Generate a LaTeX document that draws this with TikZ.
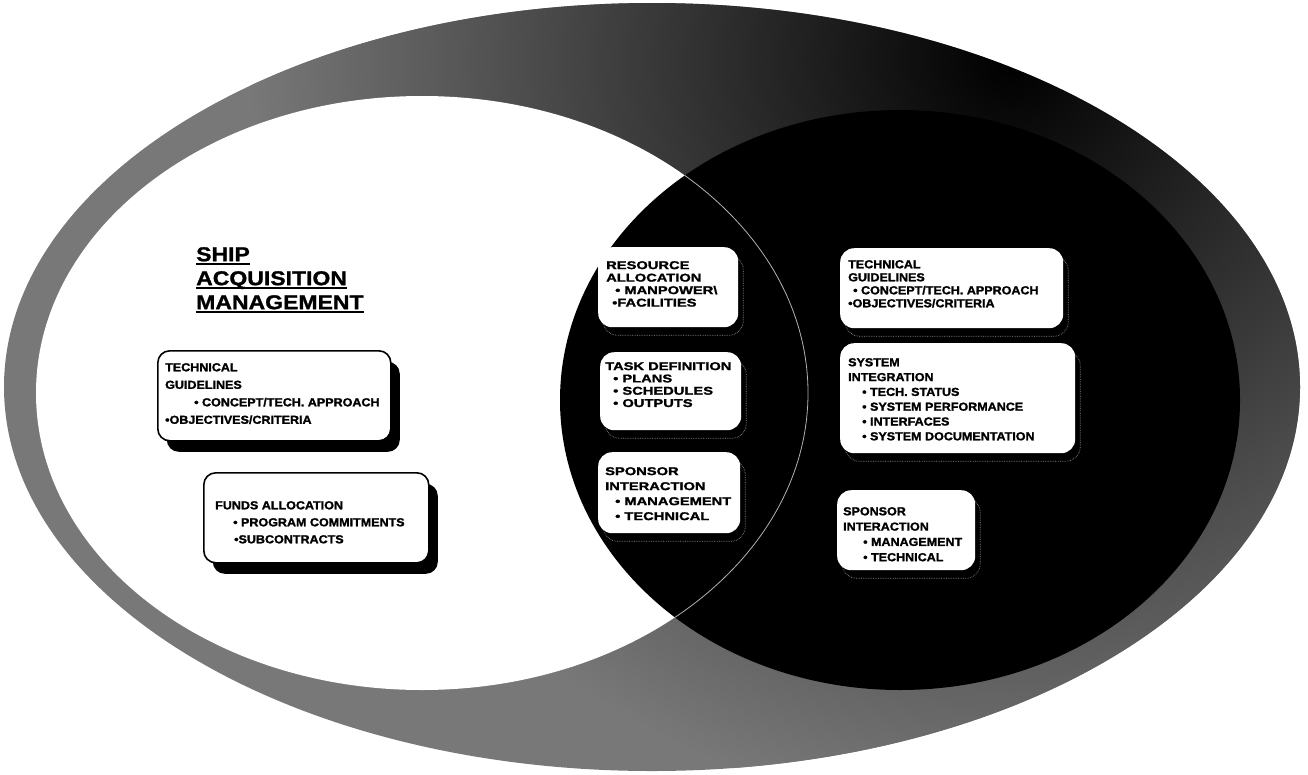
\documentclass[tikz,border=0pt]{standalone}
\usepackage{fontspec}
\setmainfont{Liberation Sans}
\newfontfamily\titlefont{Liberation Sans Bold}[FakeStretch=1.15, FakeBold=1.2]
\newfontfamily\boxfont{Liberation Sans Bold}[FakeStretch=1.08, FakeBold=1.6]
\newfontfamily\midfont{Liberation Sans Bold}[FakeStretch=1.3, FakeBold=1.6]
\usetikzlibrary{shadows}
% thick underline for the heading
\newcommand{\headline}[1]{\setbox0\hbox{#1}\rlap{\rule[-3.5pt]{\wd0}{1.9pt}}\box0}
\definecolor{ringgray}{gray}{0.47}
\tikzset{
  lbox/.style={draw=black, line width=1.6pt, fill=white, rounded corners=12pt,
    inner sep=0pt, anchor=north west,
    drop shadow={shadow xshift=9pt, shadow yshift=-11pt, fill=black, opacity=1}},
  dbox/.style={fill=white, draw=none, rounded corners=14pt, inner sep=0pt, anchor=north west,
    drop shadow={shadow xshift=5pt, shadow yshift=-8pt, fill=black, draw=black!45,
      densely dotted, line width=0.7pt, opacity=1}},
  ltext/.style={anchor=north west, inner sep=0pt, align=left,
    font=\boxfont\fontsize{11.6}{#1}\selectfont},
  mtext/.style={anchor=north west, inner sep=0pt, align=left,
    font=\midfont\fontsize{11.3}{#1}\selectfont},
}
\begin{document}
\begin{tikzpicture}[x=1pt,y=-1pt]
\useasboundingbox (0,0) rectangle (1308,774);
\fill[white] (0,0) rectangle (1308,774);
% outer stippled ring, darkest towards the upper right
\begin{scope}
  \clip (652,387) ellipse [x radius=648, y radius=384];
  \fill[ringgray] (0,0) rectangle (1308,774);
  \shade[inner color=black, outer color=ringgray] (1010,60) circle (760);
\end{scope}
% left (white) and right (black) ellipses
\fill[white] (422,393) ellipse [x radius=386, y radius=297];
\fill[black] (900,400) ellipse [x radius=340, y radius=290];
\begin{scope}
  \clip (900,400) ellipse [x radius=340, y radius=290];
  \draw[black!30, line width=0.8pt] (422,393) ellipse [x radius=386, y radius=297];
\end{scope}

% heading
\node[anchor=north west, inner sep=0pt, align=left,
  font=\titlefont\fontsize{20}{24}\selectfont] (title) at (196,247)
  {\headline{SHIP}\\\headline{ACQUISITION}\\\headline{MANAGEMENT}};

% left boxes
\node[lbox, minimum width=233pt, minimum height=90pt] (lguide) at (157,350) {};
\node[ltext=17.5] (lguide-t) at (165,363)
  {TECHNICAL\\GUIDELINES\\\hspace{29pt}• CONCEPT/TECH. APPROACH\\•OBJECTIVES/CRITERIA};
\node[lbox, minimum width=225pt, minimum height=90pt] (lfunds) at (203,472) {};
\node[ltext=17] (lfunds-t) at (215,501)
  {FUNDS ALLOCATION\\\hspace{18pt}• PROGRAM COMMITMENTS\\\hspace{19pt}•SUBCONTRACTS};

% boxes in the overlap
\node[dbox, minimum width=140pt, minimum height=80pt] (mres) at (598,247) {};
\node[mtext=12.5] (mres-t) at (606,261)
  {RESOURCE\\ALLOCATION\\\hspace{9pt}• MANPOWER\textbackslash\\\hspace{6pt}•FACILITIES};
\node[dbox, minimum width=141pt, minimum height=78pt] (mtask) at (600,352) {};
\node[mtext=12.3] (mtask-t) at (605,362)
  {TASK DEFINITION\\\hspace{8pt}• PLANS\\\hspace{8pt}• SCHEDULES\\\hspace{8pt}• OUTPUTS};
\node[dbox, minimum width=142pt, minimum height=81pt] (mspon) at (598,452) {};
\node[mtext=15] (mspon-t) at (605,467)
  {SPONSOR\\INTERACTION\\\hspace{10pt}• MANAGEMENT\\\hspace{10pt}• TECHNICAL};

% right boxes
\node[dbox, minimum width=223pt, minimum height=80pt] (rguide) at (840,248) {};
\node[ltext=13] (rguide-t) at (848,260)
  {TECHNICAL\\GUIDELINES\\\hspace{5pt}• CONCEPT/TECH. APPROACH\\•OBJECTIVES/CRITERIA};
\node[dbox, minimum width=235pt, minimum height=110pt] (rsys) at (840,343) {};
\node[ltext=14.8] (rsys-t) at (848,358)
  {SYSTEM\\INTEGRATION\\\hspace{14pt}• TECH. STATUS\\\hspace{14pt}• SYSTEM PERFORMANCE\\\hspace{14pt}• INTERFACES\\\hspace{14pt}• SYSTEM DOCUMENTATION};
\node[dbox, minimum width=138pt, minimum height=80pt] (rspon) at (837,490) {};
\node[ltext=15.3] (rspon-t) at (843,507)
  {SPONSOR\\INTERACTION\\\hspace{20pt}• MANAGEMENT\\\hspace{20pt}• TECHNICAL};
\end{tikzpicture}
\end{document}
